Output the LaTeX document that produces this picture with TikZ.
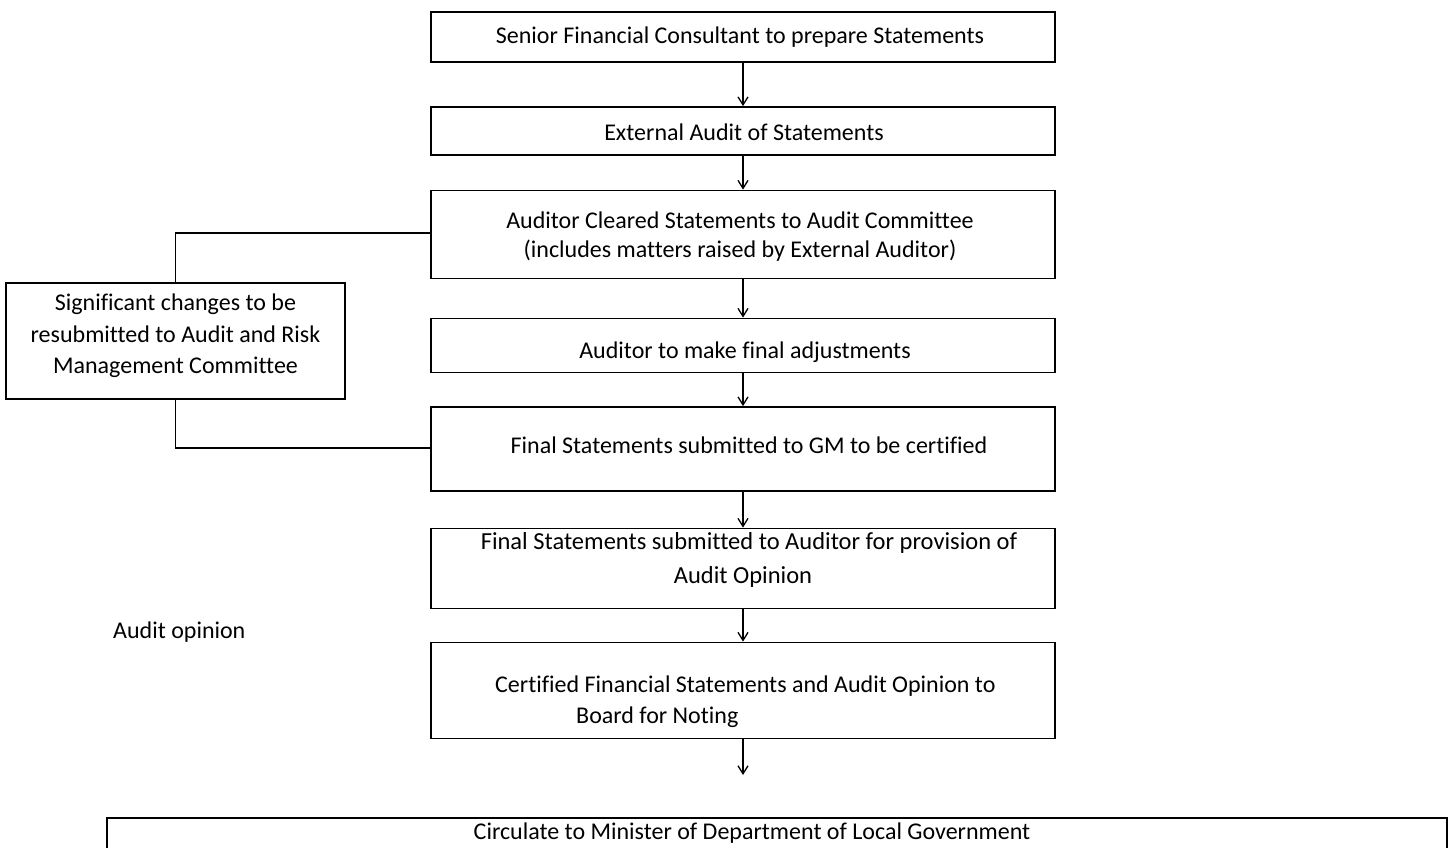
\documentclass[tikz,border=0pt]{standalone}
\usepackage{fontspec}
\setmainfont{Carlito}[Ligatures=CommonOff]
\usetikzlibrary{arrows.meta}
\begin{document}
\begin{tikzpicture}[x=1pt,y=-1pt,
  box/.style={draw=black,line width=1.8pt,rectangle,inner sep=0pt,fill=white},
  txt/.style={inner sep=0pt,font=\fontsize{24pt}{31pt}\selectfont},
  link/.style={draw=black,line width=1.5pt},
  flow/.style={draw=black,line width=1.3pt,-{Straight Barb[length=8pt,width=10pt,line width=1.3pt]}}]
\clip (0,0) rectangle (1453,848);
\useasboundingbox (0,0) rectangle (1453,848);
\fill[white] (0,0) rectangle (1453,848);

% main boxes
\node[box,minimum width=624pt,minimum height=50pt] (b1) at (743,37) {};
\node[box,minimum width=624pt,minimum height=48pt] (b2) at (743,131) {};
\node[box,minimum width=624pt,minimum height=88pt] (b3) at (743,234.5) {};
\node[box,minimum width=624pt,minimum height=54pt] (b4) at (743,345.5) {};
\node[box,minimum width=624pt,minimum height=84pt] (b5) at (743,449) {};
\node[box,minimum width=624pt,minimum height=80pt] (b6) at (743,568.5) {};
\node[box,minimum width=624pt,minimum height=96pt] (b7) at (743,690.5) {};
\node[box,minimum width=1340pt,minimum height=70pt] (b8) at (777,853) {};
\node[box,minimum width=339pt,minimum height=116pt] (side) at (175.5,341) {};

% texts
\node[txt] (t1) at (740,37) {Senior Financial Consultant to prepare Statements};
\node[txt] (t2) at (744,132) {External Audit of Statements};
\node[txt,align=center,font=\fontsize{24pt}{29pt}\selectfont] (t3) at (740,236.5) {Auditor Cleared Statements to Audit Committee\\(includes matters raised by External Auditor)};
\node[txt] (t4) at (745,352) {Auditor to make final adjustments};
\node[txt] (t5) at (749,445) {Final Statements submitted to GM to be certified};
\node[txt,align=center,font=\fontsize{24.5pt}{34pt}\selectfont] (t6) at (749,560) {Final Statements submitted to Auditor for provision of\\\hspace{-12pt}Audit Opinion};
\node[txt,align=left,anchor=west] (t7) at (495,701.5) {Certified Financial Statements and Audit Opinion to\\\hspace{81pt}Board for Noting};
\node[txt] (t8) at (752,833) {Circulate to Minister of Department of Local Government};
\node[txt,align=center,font=\fontsize{24pt}{31.5pt}\selectfont] (ts) at (175.5,336) {Significant changes to be\\resubmitted to Audit and Risk\\Management Committee};
\node[txt,anchor=west] (ao) at (113,632) {Audit opinion};

% flow arrows
\draw[flow] (b1.south) -- (b2.north);
\draw[flow] (b2.south) -- (b3.north);
\draw[flow] (b3.south) -- (b4.north);
\draw[flow] (b4.south) -- (b5.north);
\draw[flow] (b5.south) -- (b6.north);
\draw[flow] (b6.south) -- (b7.north);
\coordinate (end7) at (743,775);
\draw[flow] (b7.south) -- (end7);

% side loop
\draw[link] (b3.west |- 0,233) -| (side.north);
\draw[link] (side.south) |- (b5.west |- 0,448);
\end{tikzpicture}
\end{document}
